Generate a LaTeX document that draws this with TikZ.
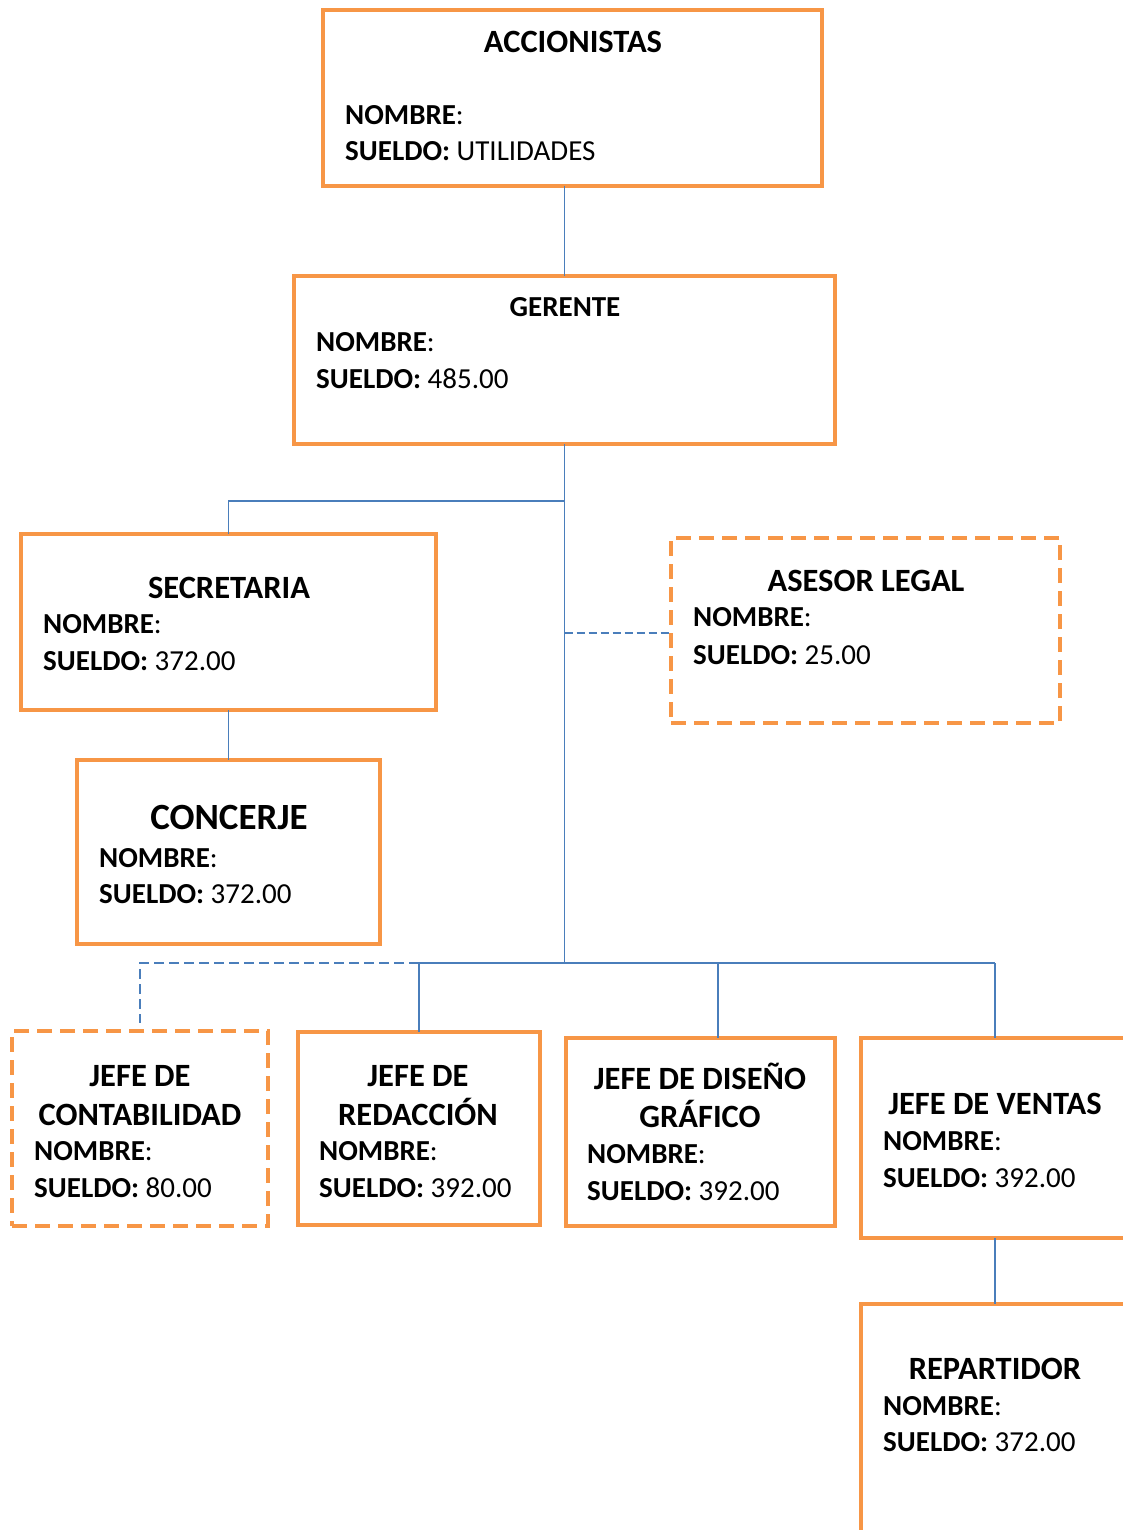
\documentclass[tikz,border=0pt]{standalone}
\usepackage{fontspec}
\setmainfont{Carlito}
\definecolor{boxorange}{RGB}{247,150,70}
\definecolor{linkblue}{RGB}{74,126,187}
\tikzset{
  post/.style={draw=boxorange, line width=4pt, rectangle, inner sep=0pt, outer sep=0pt, anchor=north west},
  dpost/.style={post, dash pattern=on 15pt off 8pt},
  ttl/.style={inner sep=0pt, anchor=base, font=\fontsize{32.5}{38}\selectfont\bfseries},
  smallttl/.style={inner sep=0pt, anchor=base, font=\fontsize{29}{35}\selectfont\bfseries},
  bigttl/.style={inner sep=0pt, anchor=base, font=\fontsize{37}{44}\selectfont\bfseries},
  txt/.style={inner sep=0pt, anchor=base west, font=\fontsize{29}{35}\selectfont},
  link/.style={draw=linkblue, line width=1.8pt},
  dlink/.style={link, dash pattern=on 10pt off 5pt},
}
\begin{document}
\begin{tikzpicture}[x=1pt, y=-1pt]
\useasboundingbox (0,0) rectangle (1122,1530);

% boxes
\node[post, minimum width=499pt, minimum height=176pt] (acc) at (323,10) {};
\node[post, minimum width=541pt, minimum height=168pt] (ger) at (294,276) {};
\node[post, minimum width=415pt, minimum height=176pt] (sec) at (21,534) {};
\node[dpost, minimum width=389pt, minimum height=185pt] (ase) at (671,538) {};
\node[post, minimum width=303pt, minimum height=184pt] (con) at (77,760) {};
\node[dpost, minimum width=256pt, minimum height=195pt] (cont) at (12,1031) {};
\node[post, minimum width=242pt, minimum height=193pt] (red) at (298,1032) {};
\node[post, minimum width=269pt, minimum height=188pt] (dis) at (566,1038) {};
\node[post, minimum width=300pt, minimum height=200pt] (ven) at (861,1038) {};
\node[post, minimum width=300pt, minimum height=300pt] (rep) at (861,1304) {};

% texts
\node[ttl] (accT) at (573,53) {ACCIONISTAS};
\node[txt] (accN) at (345,125) {\textbf{NOMBRE}:};
\node[txt] (accS) at (345,161) {\textbf{SUELDO:} UTILIDADES};

\node[smallttl] (gerT) at (565,316) {GERENTE};
\node[txt] (gerN) at (316,351) {\textbf{NOMBRE}:};
\node[txt] (gerS) at (316,388) {\textbf{SUELDO:} 485.00};

\node[ttl] (secT) at (229,598) {SECRETARIA};
\node[txt] (secN) at (43,633) {\textbf{NOMBRE}:};
\node[txt] (secS) at (43,670) {\textbf{SUELDO:} 372.00};

\node[ttl] (aseT) at (866,591) {ASESOR LEGAL};
\node[txt] (aseN) at (693,626) {\textbf{NOMBRE}:};
\node[txt] (aseS) at (693,664) {\textbf{SUELDO:} 25.00};

\node[bigttl] (conT) at (229,829) {CONCERJE};
\node[txt] (conN) at (99,867) {\textbf{NOMBRE}:};
\node[txt] (conS) at (99,903) {\textbf{SUELDO:} 372.00};

\node[ttl] (contT1) at (140,1086) {JEFE DE};
\node[ttl] (contT2) at (140,1125) {CONTABILIDAD};
\node[txt] (contN) at (34,1160) {\textbf{NOMBRE}:};
\node[txt] (contS) at (34,1197) {\textbf{SUELDO:} 80.00};

\node[ttl] (redT1) at (418,1086) {JEFE DE};
\node[ttl] (redT2) at (418,1125) {REDACCIÓN};
\node[txt] (redN) at (319,1160) {\textbf{NOMBRE}:};
\node[txt] (redS) at (319,1197) {\textbf{SUELDO:} 392.00};

\node[ttl] (disT1) at (700,1089) {JEFE DE DISEÑO};
\node[ttl] (disT2) at (700,1127) {GRÁFICO};
\node[txt] (disN) at (587,1163) {\textbf{NOMBRE}:};
\node[txt] (disS) at (587,1200) {\textbf{SUELDO:} 392.00};

\node[ttl] (venT) at (995,1114) {JEFE DE VENTAS};
\node[txt] (venN) at (883,1150) {\textbf{NOMBRE}:};
\node[txt] (venS) at (883,1187) {\textbf{SUELDO:} 392.00};

\node[ttl] (repT) at (995,1379) {REPARTIDOR};
\node[txt] (repN) at (883,1415) {\textbf{NOMBRE}:};
\node[txt] (repS) at (883,1451) {\textbf{SUELDO:} 372.00};

% junction points
\coordinate (sj) at (564.5,501);
\coordinate (aj) at (564.5,633);
\coordinate (bus) at (564.5,963);
\coordinate (dj) at (718,963);
\coordinate (vj) at (995,963);

% connectors
\draw[link] (ger.north |- acc.south) -- (ger.north);
\draw[link] (ger.south) -- (bus);
\draw[link] (sj) -| (sec.north);
\draw[dlink, line width=2.4pt, dash pattern=on 8pt off 4pt] (aj) -- (aj -| ase.west);
\draw[link] (sec.south) -- (con.north);
\draw[link] (red.north |- bus) -- (vj);
\draw[link] (red.north |- bus) -- (red.north);
\draw[link] (dj) -- (dj |- dis.north);
\draw[link] (vj) -- (vj |- ven.north);
\draw[dlink, shorten >=8pt] (red.north |- bus) -- (cont.north |- bus) -- (cont.north);
\draw[link] (vj |- ven.south) -- (vj |- rep.north);
\end{tikzpicture}
\end{document}
